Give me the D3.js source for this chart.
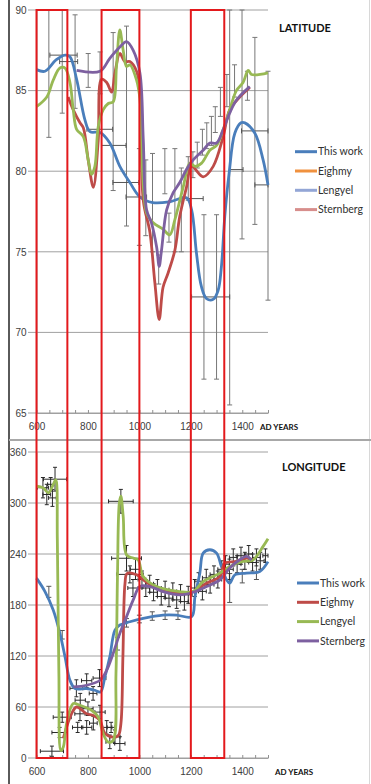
<!DOCTYPE html>
<html>
<head>
<meta charset="utf-8">
<script src="https://cdn.jsdelivr.net/npm/d3@7"></script>
<style>
body { margin: 0; background: #fff; }
svg { display: block; font-family: Lato, 'Open Sans', sans-serif; }
.tick text { font-size: 10px; fill: #404040; }
.legend-label { font-size: 10.5px; fill: #303030; }
.panel-title { font-size: 11px; font-weight: bold; fill: #111; }
.axis-name { font-size: 8px; font-weight: bold; fill: #111; }
</style>
</head>
<body>
<svg width="371" height="784"></svg>
<script>
// ---- Latitude series (year, degrees) ----
var latThisWorkYears = [600, 633, 676, 711, 730, 756, 788, 808, 847, 885, 924, 963, 1002, 1052, 1118, 1183, 1203, 1222, 1241, 1261, 1287, 1306, 1319, 1332, 1349, 1371, 1395, 1410, 1449, 1481, 1500];
var latThisWorkValues = [86.3, 86.2, 86.9, 87.2, 87.1, 85.7, 83.2, 82.45, 82.4, 81.75, 80.3, 79.3, 78.4, 78.05, 78.1, 78.35, 77.6, 74.9, 72.85, 72.1, 72.05, 72.6, 74.1, 77.2, 79.9, 82.35, 83.0, 83.0, 82.35, 80.7, 79.15];

var latEighmyYears = [723, 743, 769, 782, 801, 821, 840, 853, 873, 892, 905, 924, 944, 963, 989, 1002, 1015, 1041, 1060, 1077, 1092, 1112, 1138, 1157, 1183, 1203, 1248, 1287, 1325, 1351, 1390, 1429];
var latEighmyValues = [84.6, 83.8, 83.0, 82.7, 80.7, 79.0, 81.9, 85.7, 85.5, 84.9, 86.1, 87.3, 86.8, 86.8, 86.2, 85.0, 78.2, 76.2, 73.1, 70.8, 72.8, 73.7, 75.1, 77.2, 79.0, 80.3, 79.65, 80.3, 82.1, 83.8, 84.6, 85.2];

var latLengyelYears = [600, 640, 665, 691, 711, 730, 743, 756, 782, 801, 814, 827, 840, 859, 879, 898, 911, 924, 937, 950, 963, 989, 1002, 1028, 1054, 1092, 1118, 1138, 1170, 1196, 1216, 1242, 1274, 1300, 1325, 1351, 1377, 1403, 1423, 1436, 1500];
var latLengyelValues = [84.0, 84.6, 85.65, 86.4, 86.4, 85.5, 83.8, 82.6, 82.15, 80.7, 79.8, 80.3, 82.75, 83.8, 84.2, 84.3, 86.5, 88.76, 87.5, 86.5, 86.6, 85.65, 84.5, 77.4, 76.8, 76.4, 76.05, 77.0, 79.0, 80.5, 80.3, 80.5, 81.3, 81.6, 82.55, 83.8, 85.0, 85.5, 86.25, 86.0, 86.1];

var latSternbergYears = [756, 847, 885, 924, 950, 976, 1002, 1015, 1028, 1047, 1067, 1077, 1086, 1106, 1131, 1157, 1183, 1209, 1248, 1274, 1300, 1325, 1351, 1377, 1429];
var latSternbergValues = [86.25, 86.2, 87.0, 87.7, 88.04, 87.5, 86.1, 82.0, 77.6, 76.8, 75.3, 74.1, 75.1, 77.6, 78.65, 79.3, 80.1, 80.7, 81.3, 81.75, 81.75, 82.55, 83.6, 84.4, 85.25];

// latitude error bars: vertical [year, low, high], horizontal [value, yearLow, yearHigh]
var latErrVertical = [[648, 82.1, 90], [700, 83.6, 90], [750, 83.9, 89.7], [801, 85.2, 87.3], [847, 84.8, 87.4], [898, 78.8, 88.6], [950, 76.6, 89.0], [1000, 75.4, 81.4], [1025, 76.0, 80.7], [1051, 75.0, 81.1], [1075, 73.0, 74.8], [1099, 78.6, 81.4], [1115, 75.6, 77.4], [1138, 75.0, 81.4], [1163, 75.0, 80.2], [1190, 78.2, 80.9], [1208, 79.6, 81.2], [1225, 80.2, 81.8], [1245, 81.0, 82.6], [1262, 81.4, 83.0], [1280, 81.6, 83.4], [1295, 82.4, 84.0], [1315, 83.4, 85.2], [1340, 84.0, 86.0], [1370, 84.6, 86.6], [1420, 84.4, 86.2], [1251, 67.1, 77.3], [1300, 67.1, 77.3], [1351, 65.5, 90], [1399, 75.8, 90], [1449, 76.7, 88.3], [1500, 72.0, 86.2]];
var latErrHorizontal = [[87.2, 652, 758], [86.8, 690, 760], [82.6, 796, 896], [81.6, 853, 948], [79.3, 897, 998], [78.4, 948, 1028], [78.3, 1170, 1248], [72.2, 1203, 1351], [80.1, 1351, 1403], [82.5, 1397, 1500], [79.15, 1449, 1500]];

// ---- Longitude series (year, degrees) ----
var lonThisWorkYears = [600, 633, 665, 691, 711, 730, 750, 795, 827, 849, 866, 885, 905, 924, 963, 1015, 1092, 1144, 1203, 1216, 1235, 1248, 1274, 1300, 1319, 1339, 1351, 1371, 1416, 1468, 1500];
var lonThisWorkValues = [211.6, 195.8, 174, 146.6, 119, 91.5, 81.7, 81.7, 79.7, 77.7, 95.4, 119, 150.5, 156.4, 160.3, 164.3, 168.2, 168.2, 166.2, 189.8, 217.5, 241, 245, 241, 225.3, 209.6, 205.7, 215.5, 217.5, 219.4, 231];

var lonEighmyYears = [704, 737, 756, 795, 821, 847, 866, 898, 918, 928, 936, 944, 952, 989, 1015, 1067, 1157, 1209, 1261, 1313, 1332, 1377, 1416, 1442];
var lonEighmyValues = [23, 52.5, 60, 52, 50, 44, 29, 24.5, 26.5, 40, 120, 205, 217, 215.5, 209.6, 199.8, 193.9, 195.8, 205.7, 213.5, 229.3, 231.2, 235.2, 233];

var lonLengyelYears = [600, 626, 646, 665, 675, 681, 687, 695, 704, 717, 743, 769, 814, 840, 859, 879, 898, 909, 915, 922, 928, 937, 950, 976, 995, 1015, 1067, 1157, 1209, 1248, 1313, 1351, 1403, 1442, 1481, 1500];
var lonLengyelValues = [319.7, 317.8, 312, 321.7, 327.6, 256.8, 99.7, 8.8, 12.7, 40.4, 64, 62, 56, 48.2, 28.6, 18.7, 20.7, 99.4, 217.5, 300, 308, 284.3, 239, 235.2, 233.2, 213.5, 201.7, 195.8, 195.8, 207.6, 217.5, 225.3, 231.2, 233, 249, 258];

var lonSternbergYears = [743, 795, 847, 873, 898, 924, 950, 976, 1002, 1041, 1092, 1157, 1209, 1261, 1313, 1351, 1390, 1416, 1436];
var lonSternbergValues = [83.6, 85.6, 91.5, 103.3, 123, 146.6, 166.2, 186, 201.7, 201.7, 195.8, 191.9, 195, 201.7, 209.6, 223.4, 233.2, 237.1, 233];

// longitude crosses [year, lon, +-years, +-degrees]
var lonCrosses = [[625, 318, 22, 12], [640, 310, 15, 12], [655, 322, 12, 8], [672, 328, 45, 14], [662, 306, 15, 10],
    [660, 8, 45, 6], [690, 30, 30, 6], [700, 48, 35, 6], [760, 36, 20, 6], [755, 82, 25, 10], [770, 68, 20, 8], [795, 91, 20, 8], [820, 76, 15, 8], [845, 94, 25, 10], [769, 52, 20, 8], [800, 58, 20, 8], [821, 41, 15, 8], [795, 36, 20, 8], [847, 54, 20, 8], [873, 36, 20, 8], [885, 19, 15, 8], [905, 25, 20, 8], [924, 17, 20, 8], [890, 36, 15, 6],
    [928, 302, 48, 14], [950, 235, 58, 15], [963, 216, 52, 10], [985, 222, 20, 12], [975, 200, 20, 10],
    [1010, 210, 15, 10], [1025, 200, 15, 10], [1040, 205, 15, 10], [1055, 195, 15, 10], [1070, 200, 15, 10], [1085, 190, 15, 10], [1100, 198, 15, 10], [1115, 188, 15, 10], [1130, 196, 15, 10], [1145, 186, 15, 10], [1160, 194, 15, 10], [1175, 184, 15, 10], [1190, 192, 15, 10],
    [1215, 200, 15, 10], [1230, 208, 15, 10], [1245, 196, 15, 10], [1260, 212, 15, 10], [1275, 204, 15, 10], [1290, 216, 15, 10], [1305, 210, 15, 10], [1320, 222, 15, 10], [1335, 228, 15, 10], [1350, 222, 15, 12], [1365, 236, 15, 10], [1380, 228, 15, 10], [1395, 238, 15, 10], [1410, 232, 15, 10], [1425, 240, 15, 10], [1440, 230, 15, 10], [1455, 236, 15, 10], [1470, 232, 15, 10], [1490, 238, 10, 8]];
// "This work" longitude bars [year, low, high]
var lonErrVertical = [[648, 189, 202], [700, 140, 150], [915, 127, 142], [950, 154, 164], [1000, 159, 168], [1050, 162, 172], [1100, 163, 173], [1150, 163, 173], [1351, 183, 217], [1400, 206, 222], [1455, 210, 230]];

// highlighted periods [start, end]
var periods = [[600, 720], [853, 1000], [1200, 1330]];

var latTicks = [65, 70, 75, 80, 85, 90];
var lonTicks = [0, 60, 120, 180, 240, 300, 360];
var yearTicks = [600, 800, 1000, 1200, 1400];

var seriesNames = ['This work', 'Eighmy', 'Lengyel', 'Sternberg'];
var lineColors = ['#4a7ebb', '#be4b48', '#98b954', '#7d60a0'];
var latLegendColors = ['#4a7ebb', '#f0913e', '#93a6d6', '#d78e8c'];

var svg = d3.select('svg');

var x = d3.scaleLinear().domain([600, 1500]).range([36.5, 268]);
var latY = d3.scaleLinear().domain([65, 90]).range([413, 10]);
var lonY = d3.scaleLinear().domain([0, 360]).range([758, 452]);

function zip(years, values) {
    return years.map(function(d, i) { return [d, values[i]]; });
}

// frame of the figure
svg.append('line').attr('x1', 9).attr('x2', 9).attr('y1', 0).attr('y2', 784)
    .attr('stroke', '#5a5a5a').attr('stroke-width', 2);
svg.append('line').attr('x1', 369.5).attr('x2', 369.5).attr('y1', 0).attr('y2', 784)
    .attr('stroke', '#d8d8d8');
svg.append('line').attr('x1', 9).attr('x2', 371).attr('y1', 440).attr('y2', 440)
    .attr('stroke', '#a8a8a8').attr('stroke-width', 2);

function drawPanel(yScale, ticks) {
    var g = svg.append('g');
    // horizontal gridlines
    g.selectAll('.grid').data(ticks).enter().append('line')
        .attr('class', 'grid')
        .attr('x1', 28).attr('x2', x(1500))
        .attr('y1', function(d) { return yScale(d); })
        .attr('y2', function(d) { return yScale(d); })
        .attr('stroke', '#a0a0a0').attr('stroke-width', 1);

    var yAxis = d3.axisLeft(yScale).tickValues(ticks).tickSize(0).tickPadding(10);
    g.append('g').attr('transform', 'translate(' + x(600) + ',0)').call(yAxis)
        .call(function(a) { a.select('.domain').attr('stroke', '#a0a0a0'); });

    var xAxis = d3.axisBottom(x)
        .tickValues(d3.range(600, 1501, 50))
        .tickSizeInner(-3).tickSizeOuter(0).tickPadding(10)
        .tickFormat(function(d) { return yearTicks.indexOf(d) >= 0 ? d : ''; });
    g.append('g').attr('transform', 'translate(0,' + yScale(ticks[0]) + ')').call(xAxis)
        .call(function(a) {
            a.select('.domain').attr('stroke', '#a0a0a0');
            a.selectAll('.tick line').attr('stroke', '#909090');
        });
    return g;
}

var latG = drawPanel(latY, latTicks);
var lonG = drawPanel(lonY, lonTicks);

// error bars
function vBars(g, yScale, data, color, cap) {
    g.selectAll(null).data(data).enter().append('path')
        .attr('d', function(d) {
            var px = x(d[0]), y0 = yScale(d[1]), y1 = yScale(d[2]);
            return 'M' + px + ',' + y0 + 'V' + y1 +
                'M' + (px - cap) + ',' + y0 + 'H' + (px + cap) +
                'M' + (px - cap) + ',' + y1 + 'H' + (px + cap);
        })
        .attr('stroke', color).attr('fill', 'none').attr('stroke-width', 1);
}

vBars(latG, latY, latErrVertical, '#777', 2.5);
latG.selectAll(null).data(latErrHorizontal).enter().append('path')
    .attr('d', function(d) {
        var py = latY(d[0]), x0 = x(d[1]), x1 = x(d[2]);
        return 'M' + x0 + ',' + py + 'H' + x1 +
            'M' + x0 + ',' + (py - 2.5) + 'V' + (py + 2.5) +
            'M' + x1 + ',' + (py - 2.5) + 'V' + (py + 2.5);
    })
    .attr('stroke', '#555').attr('fill', 'none').attr('stroke-width', 1);

vBars(lonG, lonY, lonErrVertical, '#555', 2.5);
lonG.selectAll(null).data(lonCrosses).enter().append('path')
    .attr('d', function(d) {
        var px = x(d[0]), py = lonY(d[1]);
        var x0 = x(d[0] - d[2]), x1 = x(d[0] + d[2]);
        var y0 = lonY(d[1] - d[3]), y1 = lonY(d[1] + d[3]);
        return 'M' + x0 + ',' + py + 'H' + x1 +
            'M' + x0 + ',' + (py - 2) + 'V' + (py + 2) +
            'M' + x1 + ',' + (py - 2) + 'V' + (py + 2) +
            'M' + px + ',' + y0 + 'V' + y1 +
            'M' + (px - 2) + ',' + y0 + 'H' + (px + 2) +
            'M' + (px - 2) + ',' + y1 + 'H' + (px + 2);
    })
    .attr('stroke', '#2a2a2a').attr('fill', 'none').attr('stroke-width', 1);

// series curves
function drawSeries(g, yScale, pts, color) {
    var line = d3.line()
        .x(function(d) { return x(d[0]); })
        .y(function(d) { return yScale(d[1]); })
        .curve(d3.curveCatmullRom.alpha(0.5));
    g.append('path').datum(pts)
        .attr('d', line)
        .attr('fill', 'none')
        .attr('stroke', color)
        .attr('stroke-width', 2.8)
        .attr('stroke-linejoin', 'round');
}

var latSeries = [zip(latThisWorkYears, latThisWorkValues), zip(latEighmyYears, latEighmyValues),
    zip(latLengyelYears, latLengyelValues), zip(latSternbergYears, latSternbergValues)];
var lonSeries = [zip(lonThisWorkYears, lonThisWorkValues), zip(lonEighmyYears, lonEighmyValues),
    zip(lonLengyelYears, lonLengyelValues), zip(lonSternbergYears, lonSternbergValues)];

latSeries.forEach(function(s, i) { drawSeries(latG, latY, s, lineColors[i]); });
lonSeries.forEach(function(s, i) { drawSeries(lonG, lonY, s, lineColors[i]); });

// red boxes spanning both panels
svg.selectAll('.period').data(periods).enter().append('rect')
    .attr('class', 'period')
    .attr('x', function(d) { return x(d[0]); })
    .attr('width', function(d) { return x(d[1]) - x(d[0]); })
    .attr('y', latY(90))
    .attr('height', lonY(0) - latY(90))
    .attr('fill', 'none')
    .attr('stroke', '#e3191c')
    .attr('stroke-width', 2);

// titles and axis names
svg.append('text').attr('class', 'panel-title').attr('x', 279).attr('y', 32).text('LATITUDE');
svg.append('text').attr('class', 'panel-title').attr('x', 282).attr('y', 471).text('LONGITUDE');
svg.append('text').attr('class', 'axis-name').attr('x', 260).attr('y', 430).text('AD YEARS');
svg.append('text').attr('class', 'axis-name').attr('x', 275).attr('y', 775).text('AD YEARS');

// legends
function drawLegend(x0, y0, colors) {
    var lg = svg.append('g').attr('transform', 'translate(' + x0 + ',' + y0 + ')');
    var rows = lg.selectAll('g').data(seriesNames).enter().append('g')
        .attr('transform', function(d, i) { return 'translate(0,' + (i * 19.3) + ')'; });
    rows.append('line').attr('x1', 0).attr('x2', 22).attr('y1', 0).attr('y2', 0)
        .attr('stroke', function(d, i) { return colors[i]; })
        .attr('stroke-width', 3);
    rows.append('text').attr('class', 'legend-label')
        .attr('x', 23).attr('y', 0).attr('dy', '0.35em')
        .text(function(d) { return d; });
}

drawLegend(295, 151.7, latLegendColors);
drawLegend(297, 583, lineColors);
</script>
</body>
</html>
